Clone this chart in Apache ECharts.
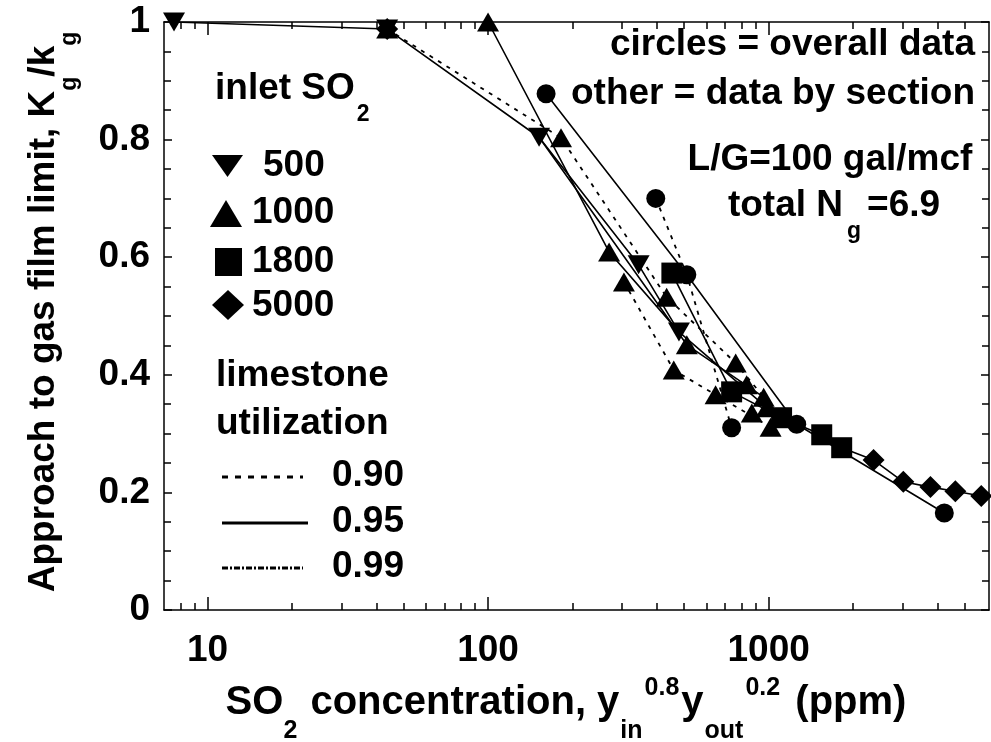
<!DOCTYPE html>
<html><head><meta charset="utf-8">
<script src="https://cdn.jsdelivr.net/npm/echarts@6/dist/echarts.min.js"></script>
<style>html,body{margin:0;padding:0;background:#fff}#c{width:991px;height:742px}</style>
</head><body><div id="c"></div>
<script>
// ---- tick values / labels ----
const xMajorTicks = [10, 100, 1000];
const xTickLabels = ['10', '100', '1000'];
const xMinorTicks = [8, 9, 20, 30, 40, 50, 60, 70, 80, 90, 200, 300, 400, 500, 600, 700, 800, 900, 2000, 3000, 4000, 5000];
const yTickLabels = ['0', '0.2', '0.4', '0.6', '0.8', '1'];

// ---- markers by inlet SO2 ----
const inlet500 = [[7.6, 1.0], [43.7, 0.988], [152, 0.804], [344, 0.587], [479, 0.473]];
const inlet1000 = [[43.7, 0.988], [100, 1.0], [182, 0.803], [270, 0.609], [305, 0.558], [433, 0.532], [459, 0.408], [511, 0.451], [647, 0.366], [763, 0.420], [835, 0.383], [871, 0.335], [960, 0.362], [985, 0.344], [1016, 0.311]];
const inlet1800 = [[452, 0.573], [738, 0.371], [1112, 0.327], [1546, 0.298], [1821, 0.276]];
const inlet5000 = [[43.7, 0.988], [2366, 0.255], [3020, 0.218], [3773, 0.209], [4628, 0.202], [5723, 0.194]];
const overallData = [[161, 0.878], [396, 0.70], [511, 0.57], [738, 0.31], [1259, 0.316], [4227, 0.165]];

// ---- connecting curves (utilization 0.95 = solid, 0.90 = dotted) ----
const run95a = [[7.6, 1.0], [43.7, 0.988], [152, 0.804], [344, 0.587], [479, 0.473], [985, 0.344], [1112, 0.327]];
const run95b = [[100, 1.0], [270, 0.609], [479, 0.473]];
const run95c = [[152, 0.804], [511, 0.451], [960, 0.362], [1112, 0.327]];
const run95d = [[452, 0.573], [738, 0.371], [1112, 0.327], [1546, 0.298], [1821, 0.276], [2366, 0.255], [3020, 0.218], [3773, 0.209], [4628, 0.202], [5723, 0.194]];
const overall95 = [[161, 0.878], [511, 0.57], [1259, 0.316], [4227, 0.165]];
const run90a = [[43.7, 0.988], [182, 0.803], [433, 0.532], [763, 0.420], [960, 0.362]];
const run90b = [[305, 0.558], [459, 0.408], [647, 0.366], [1016, 0.311]];
const overall90 = [[396, 0.70], [511, 0.57], [738, 0.31]];

const FF = '"Liberation Sans", Arial, sans-serif';
const F = 37;
const ctx = document.createElement('canvas').getContext('2d');
function tw(t, size) { ctx.font = 'bold ' + size + 'px ' + FF; return ctx.measureText(t).width; }
function txt(t, x, y, size, align) {
  return { type: 'text', x: x, y: y, z: 50, style: { text: t, fill: '#000', font: 'bold ' + size + 'px ' + FF,
    textAlign: align || 'left', align: align || 'left', textVerticalAlign: 'middle', verticalAlign: 'middle' } };
}
// pieces: [text, kind, gapAfter]  m=main, s=subscript, p=superscript
function rich(pieces, x, y, align, rotation, size) {
  const S = size || F, s2 = Math.round(S * 0.62);
  const parts = pieces.map(p => ({ t: p[0], k: p[1], g: p[2] || 0, sz: p[1] === 'm' ? S : s2 }));
  parts.forEach(p => p.w = tw(p.t, p.sz) + p.g);
  const total = parts.reduce((a, p) => a + p.w, 0);
  let cx = align === 'center' ? -total / 2 : (align === 'right' ? -total : 0);
  const children = [];
  parts.forEach(p => {
    const dy = p.k === 's' ? S * 0.7 : (p.k === 'p' ? -S * 0.38 : 0);
    children.push(txt(p.t, cx, dy, p.sz, 'left'));
    cx += p.w;
  });
  return { type: 'group', x: x, y: y, rotation: rotation || 0, z: 50, children: children };
}

const chart = echarts.init(document.getElementById('c'), null, { renderer: 'canvas' });

const black = '#000';
function lineSeries(data, dashed) {
  return { type: 'line', data: data, xAxisIndex: 0, yAxisIndex: 0, symbol: 'none', silent: true, z: 2,
    lineStyle: { color: black, width: dashed ? 1.8 : 1.6, type: dashed ? [4, 6] : 'solid', opacity: 1 } };
}
function markSeries(data, symbol, size, rot) {
  return { type: 'scatter', data: data, xAxisIndex: 0, yAxisIndex: 0, symbol: symbol, symbolSize: size,
    symbolRotate: rot || 0, itemStyle: { color: black, opacity: 1 }, silent: true, z: 5 };
}

const axCommon = { type: 'log', logBase: 10, min: 7, max: 6100, splitLine: { show: false }, gridIndex: 0 };
const tickStyle = { color: black, width: 1.5 };
const labelStyle = { color: black, fontSize: F, fontWeight: 'bold', fontFamily: FF };

const option = {
  backgroundColor: '#fff',
  animation: false,
  grid: { left: 164, right: 2, top: 22, bottom: 132, containLabel: false },
  xAxis: [
    Object.assign({}, axCommon, { position: 'bottom',
      axisLine: { show: true, lineStyle: tickStyle },
      axisTick: { show: true, inside: true, length: 7, lineStyle: tickStyle, customValues: xMinorTicks },
      axisLabel: Object.assign({ show: true, margin: 22, customValues: xMajorTicks,
        formatter: v => xTickLabels[xMajorTicks.indexOf(Math.round(v))] || '' }, labelStyle) }),
    Object.assign({}, axCommon, { position: 'bottom',
      axisLine: { show: false },
      axisTick: { show: true, inside: true, length: 13, lineStyle: tickStyle, customValues: xMajorTicks },
      axisLabel: { show: false } }),
    Object.assign({}, axCommon, { position: 'top',
      axisLine: { show: true, lineStyle: tickStyle },
      axisTick: { show: true, inside: true, length: 7, lineStyle: tickStyle, customValues: xMinorTicks },
      axisLabel: { show: false } }),
    Object.assign({}, axCommon, { position: 'top',
      axisLine: { show: false },
      axisTick: { show: true, inside: true, length: 13, lineStyle: tickStyle, customValues: xMajorTicks },
      axisLabel: { show: false } })
  ],
  yAxis: [
    { type: 'value', position: 'left', min: 0, max: 1, interval: 0.2, splitLine: { show: false },
      axisLine: { show: true, lineStyle: tickStyle },
      axisTick: { show: true, inside: true, length: 8, lineStyle: tickStyle },
      minorTick: { show: true, splitNumber: 4, length: 7, lineStyle: tickStyle },
      axisLabel: Object.assign({ margin: 14, formatter: v => yTickLabels[Math.round(v * 5)] }, labelStyle) },
    { type: 'value', position: 'right', min: 0, max: 1, interval: 0.2, splitLine: { show: false },
      axisLine: { show: true, lineStyle: tickStyle },
      axisTick: { show: true, inside: true, length: 8, lineStyle: tickStyle },
      minorTick: { show: true, splitNumber: 4, length: 7, lineStyle: tickStyle },
      axisLabel: { show: false } }
  ],
  series: [
    lineSeries(run95a, false), lineSeries(run95b, false), lineSeries(run95c, false),
    lineSeries(run95d, false), lineSeries(overall95, false),
    lineSeries(run90a, true), lineSeries(run90b, true), lineSeries(overall90, true),
    markSeries(inlet500, 'triangle', [22, 19], 180),
    markSeries(inlet1000, 'triangle', [22, 19], 0),
    markSeries(inlet1800, 'rect', [21, 21], 0),
    markSeries(inlet5000, 'diamond', [22, 22], 0),
    markSeries(overallData, 'circle', 19, 0)
  ],
  graphic: [
    // axis titles
    rich([['SO', 'm'], ['2', 's', 2], [' concentration, y', 'm', 1], ['in', 's', 2], ['0.8', 'p', 2], ['y', 'm', 1], ['out', 's', 2], ['0.2', 'p', 4], [' (ppm)', 'm']], 566, 703, 'center', 0, 40),
    rich([['Approach to gas film limit, K', 'm'], ['g', 's'], ['/k', 'm'], ['g', 's']], 44, 312, 'center', Math.PI / 2),
    // legend: inlet SO2
    rich([['inlet SO', 'm', 2], ['2', 's']], 215, 89, 'left', 0),
    { type: 'polygon', z: 50, shape: { points: [[212, 155], [243, 155], [227.5, 177]] }, style: { fill: black } },
    txt('500', 263, 166, F),
    { type: 'polygon', z: 50, shape: { points: [[210, 227], [242, 227], [226, 200]] }, style: { fill: black } },
    txt('1000', 252, 213, F),
    { type: 'rect', z: 50, shape: { x: 215, y: 248, width: 27, height: 28 }, style: { fill: black } },
    txt('1800', 252, 262, F),
    { type: 'polygon', z: 50, shape: { points: [[228, 290], [244, 305], [228, 320], [212, 305]] }, style: { fill: black } },
    txt('5000', 252, 306, F),
    // legend: limestone utilization
    txt('limestone', 216, 376, F),
    txt('utilization', 216, 424, F),
    { type: 'line', z: 50, shape: { x1: 222, y1: 477, x2: 303, y2: 477 }, style: { stroke: black, lineWidth: 3, lineDash: [6, 7] } },
    txt('0.90', 332, 476, F),
    { type: 'line', z: 50, shape: { x1: 222, y1: 523, x2: 308, y2: 523 }, style: { stroke: black, lineWidth: 3 } },
    txt('0.95', 332, 522, F),
    { type: 'line', z: 50, shape: { x1: 222, y1: 568, x2: 303, y2: 568 }, style: { stroke: black, lineWidth: 3, lineDash: [6, 2, 2, 2] } },
    txt('0.99', 332, 567, F),
    // annotations
    txt('circles = overall data', 975, 45, F, 'right'),
    txt('other = data by section', 975, 94, F, 'right'),
    txt('L/G=100 gal/mcf', 830, 160, F, 'center'),
    rich([['total N', 'm', 4], ['g', 's', 6], ['=6.9', 'm']], 834, 206, 'center', 0)
  ]
};
chart.setOption(option);
</script>
</body></html>
